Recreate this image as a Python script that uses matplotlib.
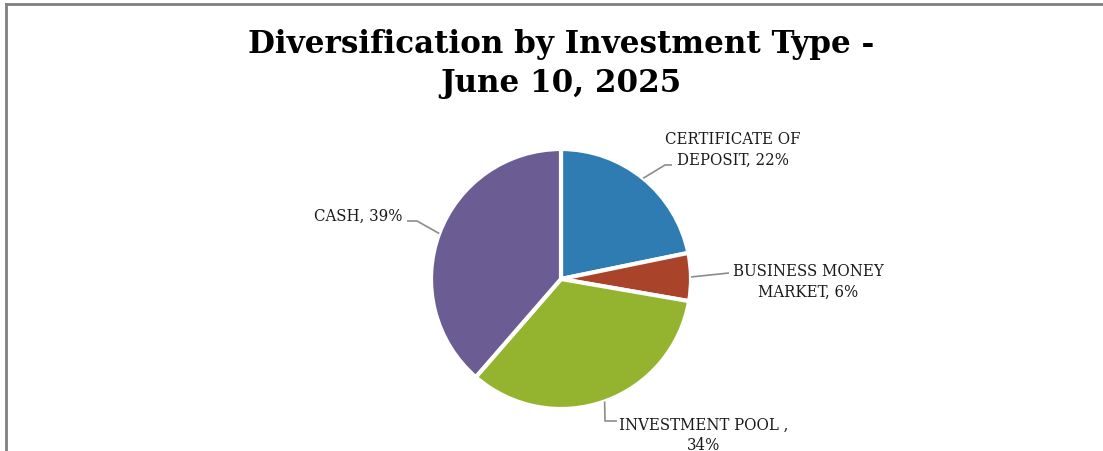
import matplotlib
matplotlib.use("Agg")
import matplotlib.pyplot as plt
from matplotlib.lines import Line2D
import numpy as np

# Portfolio mix by investment type (percent of total)
categories = ["CERTIFICATE OF\nDEPOSIT", "BUSINESS MONEY\nMARKET", "INVESTMENT POOL ,\n", "CASH"]
shares = [22, 6, 34, 39]
colors = ["#2f7cb3", "#a9432a", "#94b42f", "#6b5c94"]
title = "Diversification by Investment Type -\nJune 10, 2025"

W, H = 1103, 452
fig = plt.figure(figsize=(W / 100, H / 100), dpi=100)
ax = fig.add_axes([0, 0, 1, 1])

# Frame: top and left border lines
fig.add_artist(Line2D([6 / W, 1], [1 - 5 / H, 1 - 5 / H], transform=fig.transFigure,
                      color="#808080", lw=2))
fig.add_artist(Line2D([6 / W, 6 / W], [0, 1 - 5 / H], transform=fig.transFigure,
                      color="#808080", lw=2))

cx, cy, r = 561, H - 280, 130
wedges, _ = ax.pie(shares, colors=colors, startangle=90, counterclock=False,
                   center=(cx, cy), radius=r, frame=True,
                   wedgeprops=dict(edgecolor="white", linewidth=3))
ax.set_xlim(0, W)
ax.set_ylim(0, H)
ax.set_aspect("equal")
ax.axis("off")

fig.text(561 / W, 1 - 64 / H, title, ha="center", va="center",
         family="DejaVu Serif", fontweight="bold",
         fontsize=22.3, linespacing=1.3)

label_font = dict(family="DejaVu Serif", fontstretch="condensed", fontsize=12,
                  color="#1a1a1a", linespacing=1.25)

# label text centre (px), leader path after the wedge anchor (px)
label_pos = [(733, 150), (808, 282), (704, 435), (358, 216)]
leader_tail = [[(665, 166), (672, 166)],
               [(729, 274)],
               [(605, 422), (617, 422)],
               [(417, 222), (407, 222)]]

total = sum(shares)
cum = 0
for name, val, (tx, ty), tail in zip(categories, shares, label_pos, leader_tail):
    mid = 90 - 360 * (cum + val / 2) / total
    cum += val
    ax_x = cx + r * np.cos(np.radians(mid))
    ax_y = cy + r * np.sin(np.radians(mid))
    xs = [ax_x] + [p[0] for p in tail]
    ys = [ax_y] + [H - p[1] for p in tail]
    ax.plot(xs, ys, color="#8c8c8c", lw=1.2, solid_capstyle="butt")
    if name.endswith("\n"):
        txt = f"{name}{val}%"
    else:
        txt = f"{name}, {val}%"
    ax.text(tx, H - ty, txt, ha="center", va="center", **label_font)

fig.savefig("out.png", dpi=100, facecolor="white")
